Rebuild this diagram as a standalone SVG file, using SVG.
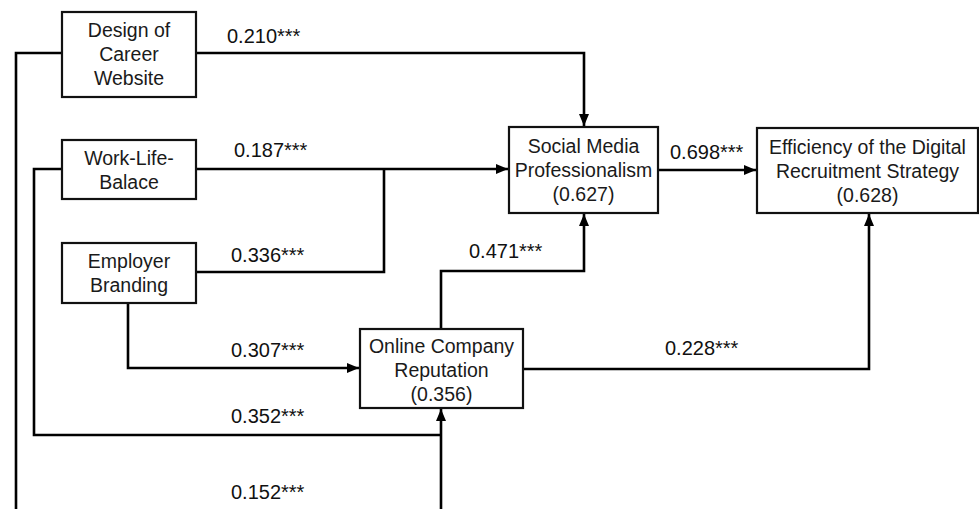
<svg xmlns="http://www.w3.org/2000/svg" width="979" height="509" viewBox="0 0 979 509">
<style>
.box{fill:#fff;stroke:#111;stroke-width:2.2}
.t{font-family:"Liberation Sans",Arial,sans-serif;font-size:19.5px;fill:#1a1a1a;text-anchor:middle}
.lbl{font-family:"Liberation Sans",Arial,sans-serif;font-size:20px;fill:#111}
.c{fill:none;stroke:#000;stroke-width:2.6}
</style>
<defs>
<marker id="ah" viewBox="0 0 12 10" refX="12" refY="5" markerWidth="12" markerHeight="10" markerUnits="userSpaceOnUse" orient="auto">
<path d="M0,0 L12,5 L0,10 Z" fill="#000"/>
</marker>
</defs>
<rect width="979" height="509" fill="#fff"/>
<g id="connectors">
<path class="c" d="M196,53 H584 V126" marker-end="url(#ah)"/>
<path class="c" d="M196,169 H508" marker-end="url(#ah)"/>
<path class="c" d="M196,272 H384 V169"/>
<path class="c" d="M658,170 H756" marker-end="url(#ah)"/>
<path class="c" d="M441,329 V271 H584 V214" marker-end="url(#ah)"/>
<path class="c" d="M523,369 H869 V214" marker-end="url(#ah)"/>
<path class="c" d="M128,303 V368 H359" marker-end="url(#ah)"/>
<path class="c" d="M62,169 H34 V435 H441"/>
<path class="c" d="M62,53 H16 V510.5 H441 V409" marker-end="url(#ah)"/>
<text class="lbl" x="227" y="43">0.210***</text>
<text class="lbl" x="234" y="157">0.187***</text>
<text class="lbl" x="231" y="262">0.336***</text>
<text class="lbl" x="670" y="159">0.698***</text>
<text class="lbl" x="469" y="258">0.471***</text>
<text class="lbl" x="231" y="357">0.307***</text>
<text class="lbl" x="665" y="355">0.228***</text>
<text class="lbl" x="231" y="423">0.352***</text>
<text class="lbl" x="231" y="499">0.152***</text>
</g>
<g id="design">
<rect class="box" x="62" y="12" width="134" height="85"/>
<text class="t" x="129" y="37">Design of</text>
<text class="t" x="129" y="61">Career</text>
<text class="t" x="129" y="85">Website</text>
</g>
<g id="worklife">
<rect class="box" x="62" y="140" width="134" height="59"/>
<text class="t" x="129" y="165">Work-Life-</text>
<text class="t" x="129" y="189">Balace</text>
</g>
<g id="employer">
<rect class="box" x="62" y="243" width="134" height="60"/>
<text class="t" x="129" y="268">Employer</text>
<text class="t" x="129" y="292">Branding</text>
</g>
<g id="social">
<rect class="box" x="509" y="127" width="149" height="86"/>
<text class="t" x="583.5" y="153">Social Media</text>
<text class="t" x="583.5" y="177">Professionalism</text>
<text class="t" x="583.5" y="201">(0.627)</text>
</g>
<g id="efficiency">
<rect class="box" x="757" y="128" width="221" height="85"/>
<text class="t" x="867.5" y="154">Efficiency of the Digital</text>
<text class="t" x="867.5" y="178">Recruitment Strategy</text>
<text class="t" x="867.5" y="202">(0.628)</text>
</g>
<g id="online">
<rect class="box" x="360" y="329" width="163" height="79"/>
<text class="t" x="441.5" y="353">Online Company</text>
<text class="t" x="441.5" y="377">Reputation</text>
<text class="t" x="441.5" y="401">(0.356)</text>
</g>
</svg>
